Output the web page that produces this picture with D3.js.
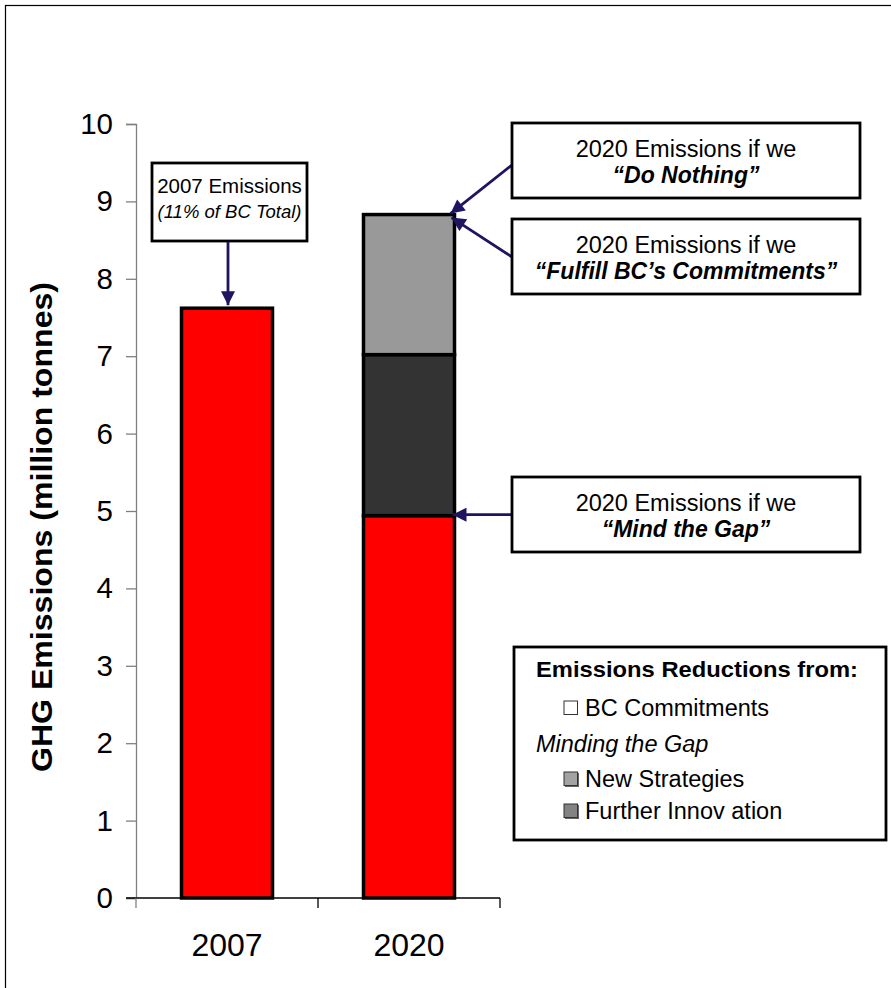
<!DOCTYPE html>
<html>
<head>
<meta charset="utf-8">
<script src="https://cdn.jsdelivr.net/npm/d3@7"></script>
<style>
  html, body { margin: 0; padding: 0; background: #fff; }
  text { font-family: "Liberation Sans", Arial, Helvetica, sans-serif; }
</style>
</head>
<body>
<svg id="chart" width="891" height="988"></svg>
<script>
// ---- data ----
const categories = ["2007", "2020"];
const seriesNames = ["Mind the Gap", "Further Innovation", "New Strategies"];
const mindTheGap = [7.62, 4.94];
const furtherInnovation = [0, 2.08];
const newStrategies = [0, 1.81];
const seriesColors = ["#ff0000", "#333333", "#999999"];
const yTicks = [0, 1, 2, 3, 4, 5, 6, 7, 8, 9, 10];
const yTitle = "GHG Emissions (million tonnes)";
const legendTitle = "Emissions Reductions from:";
const legendItems = [
  { label: "BC Commitments", color: "#ffffff", swatch: true, italic: false },
  { label: "Minding the Gap", color: null, swatch: false, italic: true },
  { label: "New Strategies", color: "#a3a3a3", swatch: true, italic: false },
  { label: "Further Innov ation", color: "#838383", swatch: true, italic: false }
];

const svg = d3.select("#chart");
const arrowColor = "#1e1460";

// outer frame
svg.append("rect").attr("x", 5.5).attr("y", 5.5).attr("width", 900).attr("height", 1000)
  .attr("fill", "none").attr("stroke", "#000").attr("stroke-width", 1.2);

// scales
const x = d3.scaleBand().domain(categories).range([136, 500]).paddingInner(0.5).paddingOuter(0.25);
const y = d3.scaleLinear().domain([0, 10]).range([898, 124]);

// stack
const rows = categories.map((c, i) => ({
  cat: c,
  "Mind the Gap": mindTheGap[i],
  "Further Innovation": furtherInnovation[i],
  "New Strategies": newStrategies[i]
}));
const stack = d3.stack().keys(seriesNames)(rows);

// y axis
const yAxis = d3.axisLeft(y).tickValues(yTicks).tickSize(10).tickPadding(13).tickFormat(d3.format("d"));
const gy = svg.append("g").attr("transform", "translate(136,0)").call(yAxis);
gy.select(".domain").attr("stroke", "#808080").attr("stroke-width", 1.3);
gy.selectAll(".tick line").attr("stroke", "#808080").attr("stroke-width", 1.3);
gy.selectAll(".tick text").attr("font-size", 29.5).attr("fill", "#000")
  .attr("font-family", "'Liberation Sans', Arial, sans-serif");

// x axis baseline and ticks at category boundaries
const step = x.step();
const bounds = [x.range()[0], x.range()[0] + step, x.range()[1]];
svg.append("line").attr("x1", 126).attr("x2", x.range()[1]).attr("y1", y(0)).attr("y2", y(0))
  .attr("stroke", "#000").attr("stroke-width", 1.3);
svg.selectAll(".xtick").data(bounds).enter().append("line")
  .attr("x1", d => d).attr("x2", d => d).attr("y1", y(0)).attr("y2", y(0) + 10)
  .attr("stroke", (d, i) => i === 0 ? "#808080" : "#000").attr("stroke-width", 1.3);
svg.selectAll(".xlabel").data(categories).enter().append("text")
  .attr("x", d => x(d) + x.bandwidth() / 2).attr("y", 956)
  .attr("text-anchor", "middle").attr("font-size", 32).text(d => d);

// bars
stack.forEach((layer, li) => {
  svg.append("g").selectAll("rect").data(layer.filter(d => d[1] - d[0] > 0)).enter().append("rect")
    .attr("x", d => x(d.data.cat))
    .attr("width", x.bandwidth())
    .attr("y", d => y(d[1]))
    .attr("height", d => y(d[0]) - y(d[1]))
    .attr("fill", seriesColors[li])
    .attr("stroke", "#000").attr("stroke-width", 3.5);
});

// y title
svg.append("text")
  .attr("transform", "translate(52,527) rotate(-90)")
  .attr("text-anchor", "middle").attr("font-size", 30).attr("font-weight", "bold")
  .attr("textLength", 490).attr("lengthAdjust", "spacingAndGlyphs")
  .text(yTitle);

// arrow marker
const defs = svg.append("defs");
defs.append("marker").attr("id", "ah").attr("viewBox", "0 0 10 10")
  .attr("refX", 10).attr("refY", 5).attr("markerWidth", 5.4).attr("markerHeight", 5)
  .attr("markerUnits", "strokeWidth").attr("orient", "auto")
  .append("path").attr("d", "M0,0 L10,5 L0,10 Z").attr("fill", arrowColor);

function arrow(x1, y1, x2, y2) {
  svg.append("line").attr("x1", x1).attr("y1", y1).attr("x2", x2).attr("y2", y2)
    .attr("stroke", arrowColor).attr("stroke-width", 2.8).attr("marker-end", "url(#ah)");
}

function box(x0, y0, w, h) {
  svg.append("rect").attr("x", x0).attr("y", y0).attr("width", w).attr("height", h)
    .attr("fill", "#fff").attr("stroke", "#000").attr("stroke-width", 2.8);
}

const total2020 = mindTheGap[1] + furtherInnovation[1] + newStrategies[1];
const bar2020R = x("2020") + x.bandwidth();
const bar2007C = x("2007") + x.bandwidth() / 2;

// 2007 annotation
box(152, 163, 155, 78);
svg.append("text").attr("x", 229.5).attr("y", 193).attr("text-anchor", "middle")
  .attr("font-size", 20.5).text("2007 Emissions");
svg.append("text").attr("x", 229.5).attr("y", 218).attr("text-anchor", "middle")
  .attr("font-size", 18.5).attr("font-style", "italic").text("(11% of BC Total)");
arrow(bar2007C + 1, 242, bar2007C + 1, y(mindTheGap[0]) - 3);

// right annotations
const annots = [
  { top: 123, l2: "\u201cDo Nothing\u201d", from: 165, to: [bar2020R - 4, y(total2020) - 1] },
  { top: 219, l2: "\u201cFulfill BC\u2019s Commitments\u201d", from: 257, to: [bar2020R - 3, y(total2020) + 3] },
  { top: 477, l2: "\u201cMind the Gap\u201d", from: y(mindTheGap[1]) - 1, to: [bar2020R - 2, y(mindTheGap[1]) - 1] }
];
annots.forEach(a => {
  arrow(512, a.from, a.to[0], a.to[1]);
  box(512, a.top, 348, 75);
  svg.append("text").attr("x", 686).attr("y", a.top + 34).attr("text-anchor", "middle")
    .attr("font-size", 23.5).text("2020 Emissions if we");
  svg.append("text").attr("x", 686).attr("y", a.top + 60).attr("text-anchor", "middle")
    .attr("font-size", 23).attr("font-weight", "bold").attr("font-style", "italic").text(a.l2);
});

// legend
box(514, 647, 372, 193);
svg.append("text").attr("x", 536).attr("y", 677).attr("font-size", 22).attr("font-weight", "bold")
  .attr("textLength", 322).attr("lengthAdjust", "spacingAndGlyphs").text(legendTitle);
const legY = [716, 752, 787, 819];
legendItems.forEach((it, i) => {
  if (it.swatch) {
    if (it.color !== "#ffffff") {
      svg.append("rect").attr("x", 565).attr("y", legY[i] - 14).attr("width", 14).attr("height", 14)
        .attr("fill", "#666");
    }
    svg.append("rect").attr("x", 564).attr("y", legY[i] - 15).attr("width", 13.5).attr("height", 13.5)
      .attr("fill", it.color).attr("stroke", "#333").attr("stroke-width", 1);
    svg.append("text").attr("x", 585).attr("y", legY[i]).attr("font-size", 23.5).text(it.label);
  } else {
    svg.append("text").attr("x", 536).attr("y", legY[i]).attr("font-size", 23.5)
      .attr("font-style", it.italic ? "italic" : "normal").text(it.label);
  }
});
</script>
</body>
</html>
